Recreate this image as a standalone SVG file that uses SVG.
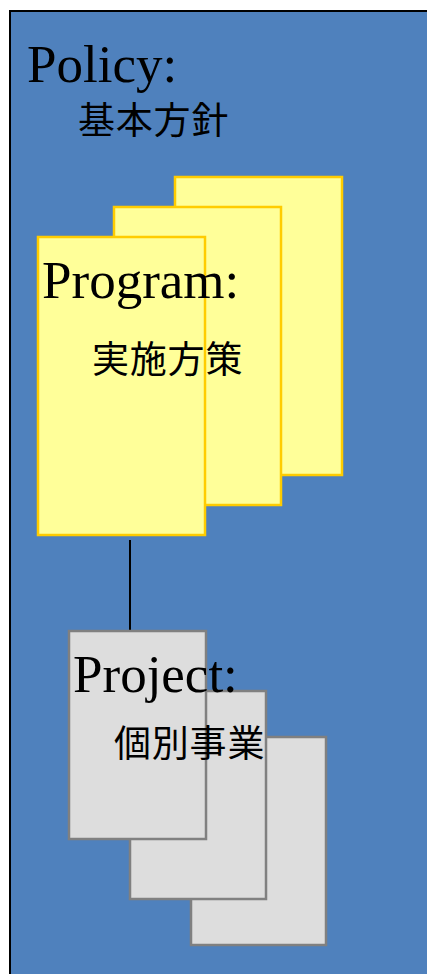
<svg xmlns="http://www.w3.org/2000/svg" width="427" height="974" viewBox="0 0 427 974">
<style>
.serif{font-family:"Liberation Serif","Times New Roman",serif;font-size:53px;fill:#000}
.cjk{font-family:"Noto Sans CJK JP","Noto Sans CJK SC",sans-serif;font-size:37px;letter-spacing:0.8px;fill:#000}
.prog{fill:#FFFF99;stroke:#FFCC00;stroke-width:2.5}
.proj{fill:#DDDDDD;stroke:#808080;stroke-width:2.5}
.conn{stroke:#000;stroke-width:2;fill:none}
</style>
<rect width="427" height="974" fill="#FFFFFF"/>
<g id="policy">
<rect x="10" y="11" width="430" height="980" fill="#4F81BD" stroke="#000" stroke-width="2"/>
<text class="serif" x="27" y="82">Policy:</text>
<text class="cjk" x="78" y="134">基本方針</text>
</g>
<g id="connectors">
<line class="conn" x1="130" y1="540" x2="130" y2="630"/>
</g>
<g id="program">
<rect class="prog" x="175" y="177" width="167" height="298"/>
<rect class="prog" x="114" y="207" width="167" height="298"/>
<rect class="prog" x="38" y="237" width="167" height="298"/>
<text class="serif" x="42" y="298">Program:</text>
<text class="cjk" x="92" y="373">実施方策</text>
</g>
<g id="project">
<rect class="proj" x="191" y="737" width="135" height="208"/>
<rect class="proj" x="130" y="691" width="136" height="208"/>
<rect class="proj" x="69" y="631" width="137" height="208"/>
<text class="serif" x="73" y="692">Project:</text>
<text class="cjk" x="114" y="757">個別事業</text>
</g>
</svg>
